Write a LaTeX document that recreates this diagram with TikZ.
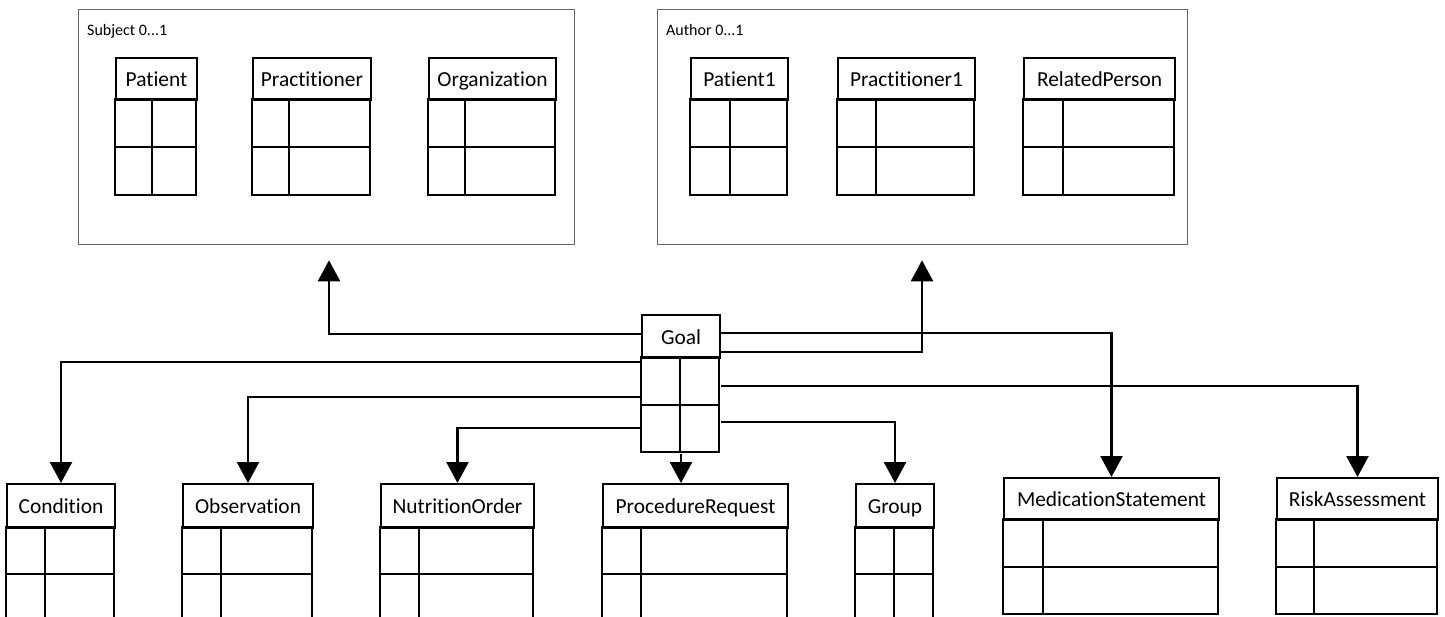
\documentclass[tikz,border=0pt]{standalone}
\usepackage{fontspec}
\setmainfont{Carlito}[Ligatures={NoCommon}]
\usetikzlibrary{arrows.meta}
\definecolor{boxgray}{RGB}{105,105,105}
\tikzset{
 hdr/.style={draw, line width=2pt, inner sep=0pt, anchor=north west, text height=15pt, text depth=0pt, font=\fontsize{21.4}{24}\selectfont},
 tbl/.style={line width=2pt},
 bodybox/.style={inner sep=0pt, outer sep=1pt, anchor=north west},
 cont/.style={draw=boxgray, line width=1.3pt, inner sep=0pt, anchor=north west},
 lbl/.style={anchor=base west, inner sep=0pt, font=\fontsize{16}{19}\selectfont},
 arr/.style={line width=2.5pt, -{Triangle[width=22pt,length=21pt]}},
}
\newcommand{\umltbl}[9]{%
 \node[hdr, minimum width={(#4-#3)*1pt}, minimum height={(#7-#6)*1pt}] (#1) at (#3,#6) {#2};
 \node[bodybox, minimum width={(#4-#3)*1pt}, minimum height={(#9-#7)*1pt}] (#1body) at (#3,#7) {};
 \draw[tbl] (#3,#7) rectangle (#4,#9) (#3,#8) -- (#4,#8) (#5,#7) -- (#5,#9);
}
\begin{document}
\begin{tikzpicture}[x=1pt,y=-1pt]
\useasboundingbox (0,0) rectangle (1445,616);
\clip (0,0) rectangle (1445,616);
\fill[white] (0,0) rectangle (1445,616);
% containers
\node[cont, minimum width=496pt, minimum height=235pt] (subj) at (78,9) {};
\node[lbl] (subjl) at (87,35) {Subject 0...1};
\node[cont, minimum width=530pt, minimum height=235pt] (auth) at (657,9) {};
\node[lbl] (authl) at (666,35) {Author 0...1};
% tables
\umltbl{patient}{Patient}{115}{196}{152}{57}{99}{147}{195}
\umltbl{pract}{Practitioner}{252}{370}{289}{57}{99}{147}{195}
\umltbl{org}{Organization}{428}{555}{465}{57}{99}{147}{195}
\umltbl{patienta}{Patient1}{690}{787}{730}{57}{99}{147}{195}
\umltbl{practa}{Practitioner1}{837}{974}{876}{57}{99}{147}{195}
\umltbl{relp}{RelatedPerson}{1023}{1174}{1063}{57}{99}{147}{195}
\umltbl{goal}{Goal}{641}{719}{680}{314}{357}{405}{452}
\umltbl{cond}{Condition}{6}{114}{45}{483}{527}{574}{630}
\umltbl{obs}{Observation}{182}{312}{221}{483}{527}{574}{630}
\umltbl{nut}{NutritionOrder}{380}{533}{419}{483}{527}{574}{630}
\umltbl{proc}{ProcedureRequest}{602}{787}{641}{483}{527}{574}{630}
\umltbl{grp}{Group}{855}{933}{894}{483}{527}{574}{630}
\umltbl{med}{MedicationStatement}{1003}{1218}{1043}{477}{519}{567}{614}
\umltbl{risk}{RiskAssessment}{1276}{1437}{1314}{477}{519}{567}{614}
% helper levels
\coordinate (ysubj) at (0,334);
\coordinate (ycond) at (0,362);
\coordinate (yobs) at (0,397);
\coordinate (ynut) at (0,428);
\coordinate (ymed) at (0,333);
\coordinate (yauth) at (0,352);
\coordinate (yrisk) at (0,386);
\coordinate (ygrp) at (0,422);
\coordinate (xsubj) at (329,0);
\coordinate (xauth) at (922,0);
% connectors
\draw[arr, shorten >=15pt] (goal.west |- ysubj) -| (xsubj |- subj.south);
\draw[arr] (goalbody.west |- ycond) -| (cond.north);
\draw[arr] (goalbody.west |- yobs) -| (obs.north);
\draw[arr] (goalbody.west |- ynut) -| (nut.north);
\draw[arr] (goalbody.south) -- (goalbody.south |- proc.north);
\draw[arr] (goal.east |- ymed) -| (med.north);
\draw[arr, shorten >=15pt] (goal.east |- yauth) -| (xauth |- auth.south);
\draw[arr] (goalbody.east |- yrisk) -| (risk.north);
\draw[arr] (goalbody.east |- ygrp) -| (grp.north);
\end{tikzpicture}
\end{document}
